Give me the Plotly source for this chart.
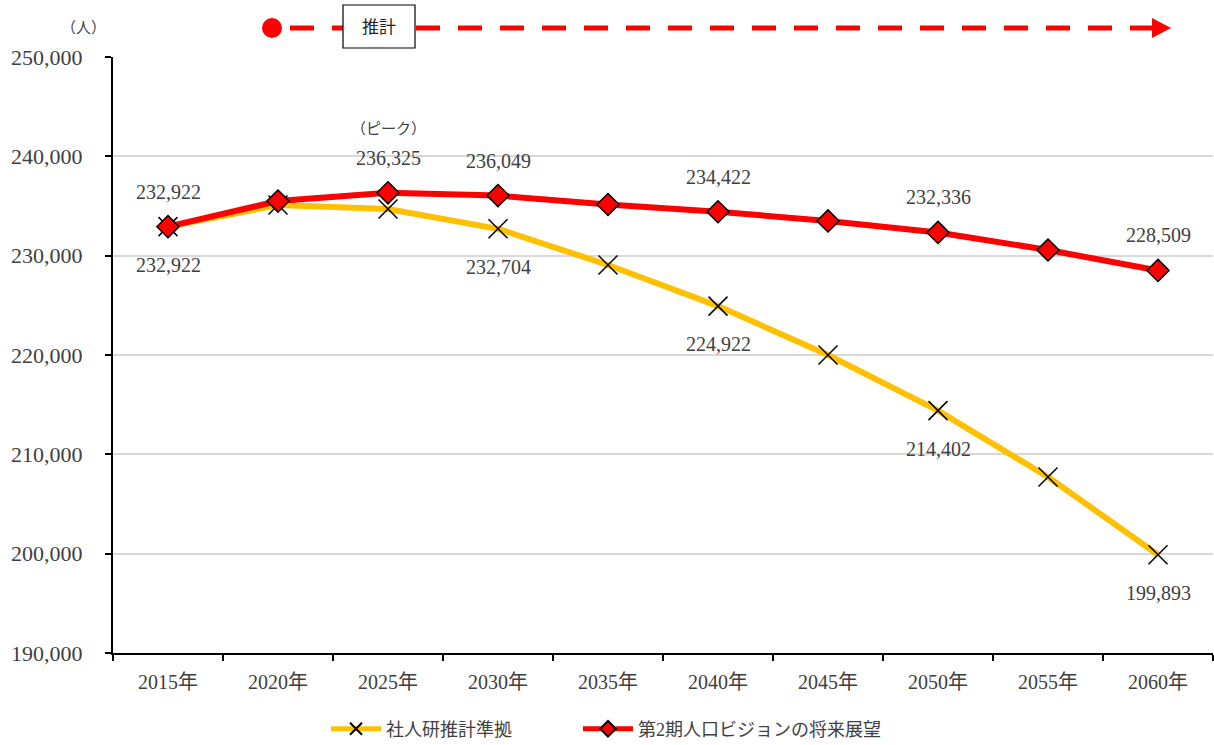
import plotly.graph_objects as go

years = ["2015年", "2020年", "2025年", "2030年", "2035年", "2040年", "2045年", "2050年", "2055年", "2060年"]
ipss = [232922, 235100, 234700, 232704, 229060, 224922, 220000, 214402, 207716, 199893]
vision = [232922, 235500, 236325, 236049, 235150, 234422, 233500, 232336, 230570, 228509]
vision_label_idx = [0, 2, 3, 5, 7, 9]
ipss_label_idx = [0, 3, 5, 7, 9]
y_ticks = [190000, 200000, 210000, 220000, 230000, 240000, 250000]

name_ipss = "社人研推計準拠"
name_vision = "第2期人口ビジョンの将来展望"

FONT = "Liberation Serif, Noto Sans CJK JP, serif"
TXT = "#404040"

W, H = 1214, 745
L, R, T, B = 113, 1, 57, 92
PW, PH = W - L - R, H - T - B

def px(x):
    return (x - L) / PW

def py(y):
    return (H - B - y) / PH

fig = go.Figure()
fig.add_trace(go.Scatter(
    x=years, y=ipss, name=name_ipss, mode="lines+markers", legend="legend",
    line=dict(color="#FFC000", width=6),
    marker=dict(symbol="x-thin", size=19, color="black", line=dict(color="black", width=1.5)),
))
fig.add_trace(go.Scatter(
    x=years, y=vision, name=name_vision, mode="lines+markers", legend="legend2",
    line=dict(color="#FF0000", width=6),
    marker=dict(symbol="diamond", size=17, color="#FF0000", line=dict(color="black", width=1.5)),
))

ann = []
for i in vision_label_idx:
    ann.append(dict(x=years[i], y=vision[i], xref="x", yref="y", text=f"{vision[i]:,}",
                    showarrow=False, yshift=35, font=dict(family=FONT, size=20, color=TXT)))
for i in ipss_label_idx:
    ann.append(dict(x=years[i], y=ipss[i], xref="x", yref="y", text=f"{ipss[i]:,}",
                    showarrow=False, yshift=-38, font=dict(family=FONT, size=20, color=TXT)))
ann.append(dict(x=years[2], y=vision[2], xref="x", yref="y", text="（ピーク）",
                showarrow=False, yshift=64, font=dict(family=FONT, size=15, color=TXT)))
ann.append(dict(x=px(83), y=py(28), xref="paper", yref="paper", text="（人）",
                xanchor="center", yanchor="middle",
                showarrow=False, font=dict(family=FONT, size=15, color=TXT)))
ann.append(dict(x=px(379), y=py(28), xref="paper", yref="paper", text="推計",
                xanchor="center", yanchor="middle",
                showarrow=False, font=dict(family=FONT, size=17, color="#222")))

shapes = [
    dict(type="line", xref="paper", yref="paper", x0=px(290), x1=px(1153), y0=py(28), y1=py(28),
         line=dict(color="#FF0000", width=5, dash="24px,18px")),
    dict(type="path", xref="paper", yref="paper",
         path=f"M {px(1152)} {py(18)} L {px(1171)} {py(28)} L {px(1152)} {py(38)} Z",
         fillcolor="#FF0000", line=dict(width=0)),
    dict(type="circle", xref="paper", yref="paper", x0=px(262), x1=px(282), y0=py(38), y1=py(18),
         fillcolor="#FF0000", line=dict(width=0)),
    dict(type="rect", xref="paper", yref="paper", x0=px(343), x1=px(415), y0=py(48), y1=py(5),
         fillcolor="white", line=dict(color="black", width=1.2)),
]

legend_common = dict(orientation="h", xanchor="left", y=py(729), yanchor="middle",
                     font=dict(family=FONT, size=18, color=TXT), itemwidth=50,
                     itemsizing="constant", bgcolor="rgba(0,0,0,0)")

fig.update_layout(
    width=W, height=H,
    margin=dict(l=L, r=R, t=T, b=B, autoexpand=False),
    paper_bgcolor="white", plot_bgcolor="white",
    font=dict(family=FONT, size=16, color=TXT),
    showlegend=True,
    legend=dict(x=px(326), **legend_common),
    legend2=dict(x=px(578), **legend_common),
    annotations=ann,
    shapes=shapes,
    xaxis=dict(type="category", showgrid=False, showline=True, linecolor="black", linewidth=2,
               ticks="outside", tickson="boundaries", ticklen=6, tickcolor="black", tickwidth=2,
               ticklabelstandoff=10,
               tickfont=dict(family=FONT, size=20, color=TXT), range=[-0.5, 9.5]),
    yaxis=dict(range=[190000, 250000], tickvals=y_ticks, tickformat=",d",
               showgrid=True, gridcolor="#D9D9D9", gridwidth=1.5,
               showline=True, linecolor="black", linewidth=2, zeroline=False,
               ticks="outside", ticklen=6, tickcolor="black", tickwidth=2,
               ticklabelstandoff=18,
               tickfont=dict(family=FONT, size=22, color=TXT)),
)

fig.write_html("out.html", config={"displayModeBar": False},
               post_script="document.body.style.margin='0';")
